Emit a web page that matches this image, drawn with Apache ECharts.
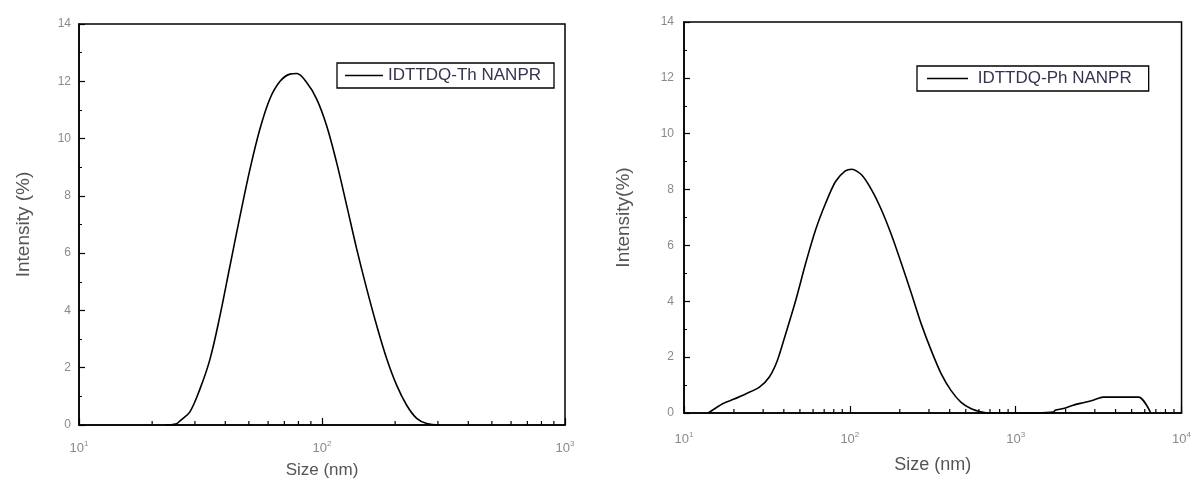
<!DOCTYPE html>
<html><head><meta charset="utf-8">
<script src="https://cdn.jsdelivr.net/npm/echarts@6/dist/echarts.min.js"></script>
<style>html,body{margin:0;padding:0;background:#fff}#c{width:1194px;height:484px}</style>
</head><body><div id="c"></div>
<script>
// Left panel: IDTTDQ-Th NANPR
const thSize =      [22.6, 25, 26.1, 28.6, 31.5, 34.6, 38.0, 41.8, 46.0, 50.6, 55.6, 61.1, 67.2, 73.8, 78.7, 86.5, 95.1, 104.5, 114.8, 126.4, 138.9, 152.7, 167.8, 184.5, 202.8, 223.1, 245.3, 269.7, 306];
const thIntensity = [0,    0.03, 0.15, 0.46, 1.27, 2.3, 3.8, 5.55, 7.3, 8.95, 10.35, 11.4, 12.0, 12.25, 12.27, 11.96, 11.38, 10.45, 9.17, 7.66, 6.15, 4.76, 3.48, 2.32, 1.39, 0.69, 0.23, 0.05, 0];
// Right panel: IDTTDQ-Ph NANPR
const phSize =      [14.0, 17.2, 19.7, 23.7, 28.5, 32.7, 36.6, 41.1, 47.2, 54.1, 62.1, 71.3, 81.8, 93.9, 102.9, 118, 135.5, 155.4, 178.3, 204.6, 235, 269, 309, 355, 407, 467, 536, 615, 676, 1343, 1690, 1730, 1941, 2224, 2553, 2931, 3365, 5521, 6529];
const phIntensity = [0,    0.34, 0.48, 0.69, 0.93, 1.29, 1.89, 2.85, 4.04, 5.35, 6.55, 7.5, 8.28, 8.67, 8.73, 8.52, 7.98, 7.26, 6.37, 5.35, 4.28, 3.2, 2.25, 1.41, 0.81, 0.39, 0.16, 0.04, 0, 0, 0.03, 0.1, 0.16, 0.28, 0.37, 0.46, 0.57, 0.57, 0];

const seriesNames = ['IDTTDQ-Th NANPR', 'IDTTDQ-Ph NANPR'];
const yAxisNames = ['Intensity (%)', 'Intensity(%)'];
const xAxisNames = ['Size (nm)', 'Size (nm)'];
const xMin = [10, 10];
const xMax = [1000, 10000];
const yMin = 0, yMax = 14, yInterval = 2;
const leftMinorX = [20,30,40,50,60,70,80,90,200,300,400,500,600,700,800,900];
const rightMinorX = [20,30,40,50,60,70,80,90,200,300,400,500,600,700,800,900,2000,3000,4000,5000,6000,7000,8000,9000];

const FF = 'Liberation Sans, Arial, sans-serif';
const tickGray = '#8a8a8a';
const nameGray = '#555';

function zip(a, b) { return a.map((v, i) => [v, b[i]]); }

const grids = [
  {left: 79, top: 24, width: 486, height: 402.5},
  {left: 684, top: 22, width: 502, height: 391}
];

function xAxis(i, margin, gap, fs) {
  return {
    type: 'log', logBase: 10, gridIndex: i, min: xMin[i], max: xMax[i],
    name: xAxisNames[i], nameLocation: 'middle', nameGap: gap,
    nameTextStyle: {fontSize: fs, color: nameGray, fontFamily: FF},
    axisLine: {show: true, lineStyle: {color: '#000', width: 1.5}},
    axisTick: {show: true, inside: true, length: 7, lineStyle: {color: '#000', width: 1.2}},
    minorTick: {show: false},
    splitLine: {show: false},
    axisLabel: {
      margin: margin,
      formatter: v => '{b|10}{s|' + Math.round(Math.log10(v)) + '}',
      rich: {
        b: {fontSize: 13, color: tickGray, fontFamily: FF, lineHeight: 15, verticalAlign: 'bottom'},
        s: {fontSize: 8, color: tickGray, fontFamily: FF, lineHeight: 8, verticalAlign: 'top'}
      }
    }
  };
}
function yAxis(i, margin, gap, fs) {
  return {
    type: 'value', gridIndex: i, min: yMin, max: yMax, interval: yInterval,
    name: yAxisNames[i], nameLocation: 'middle', nameGap: gap,
    nameTextStyle: {fontSize: fs, color: nameGray, fontFamily: FF},
    axisLine: {show: true, lineStyle: {color: '#000', width: 1.5}},
    axisTick: {show: true, inside: true, length: 6, lineStyle: {color: '#000', width: 1.2}},
    minorTick: {show: true, splitNumber: 2, length: 3, lineStyle: {color: '#000', width: 1}},
    splitLine: {show: false},
    axisLabel: {margin: margin, fontSize: 12, color: tickGray, fontFamily: FF}
  };
}
function minorTickSeries(i, vals) {
  return {
    type: 'custom', xAxisIndex: i, yAxisIndex: i, silent: true, clip: false,
    data: vals.map(v => [v, 0]),
    renderItem: (params, api) => {
      const p = api.coord([api.value(0), 0]);
      return {type: 'line', shape: {x1: p[0], y1: p[1], x2: p[0], y2: p[1] - 4},
              style: {stroke: '#000', lineWidth: 1.2}};
    },
    z: 5
  };
}
function legend(i, left, top, padding, fmt) {
  return {
    data: [seriesNames[i]], left: left, top: top, orient: 'horizontal',
    borderColor: '#000', borderWidth: 1.3, padding: padding,
    icon: 'rect', itemWidth: i === 0 ? 38 : 41, itemHeight: 1.6,
    itemStyle: {color: '#000'},
    formatter: fmt,
    textStyle: {fontSize: 17, color: '#35334f', fontFamily: FF, lineHeight: 17},
    selectedMode: false
  };
}

const option = {
  backgroundColor: '#fff',
  animation: false,
  grid: grids.map(g => Object.assign({show: true, borderColor: '#000', borderWidth: 1.5, backgroundColor: 'transparent'}, g)),
  xAxis: [xAxis(0, 15, 37, 17), xAxis(1, 18, 43, 18)],
  yAxis: [yAxis(0, 8, 46, 19), yAxis(1, 10, 51, 19)],
  legend: [
    legend(0, 337, 63, [4, 13, 4, 8], n => n),
    legend(1, 917, 66, [4, 17, 4, 10], n => ' ' + n)
  ],
  series: [
    {name: seriesNames[0], type: 'line', xAxisIndex: 0, yAxisIndex: 0, data: zip(thSize, thIntensity),
     symbol: 'none', smooth: 0.35, lineStyle: {color: '#000', width: 1.6}, itemStyle: {color: '#000'}, z: 3},
    {name: seriesNames[1], type: 'line', xAxisIndex: 1, yAxisIndex: 1, data: zip(phSize, phIntensity),
     symbol: 'none', smooth: 0.25, lineStyle: {color: '#000', width: 1.6}, itemStyle: {color: '#000'}, z: 3},
    minorTickSeries(0, leftMinorX),
    minorTickSeries(1, rightMinorX)
  ]
};
const chart = echarts.init(document.getElementById('c'), null, {renderer: 'canvas'});
chart.setOption(option);
</script></body></html>
